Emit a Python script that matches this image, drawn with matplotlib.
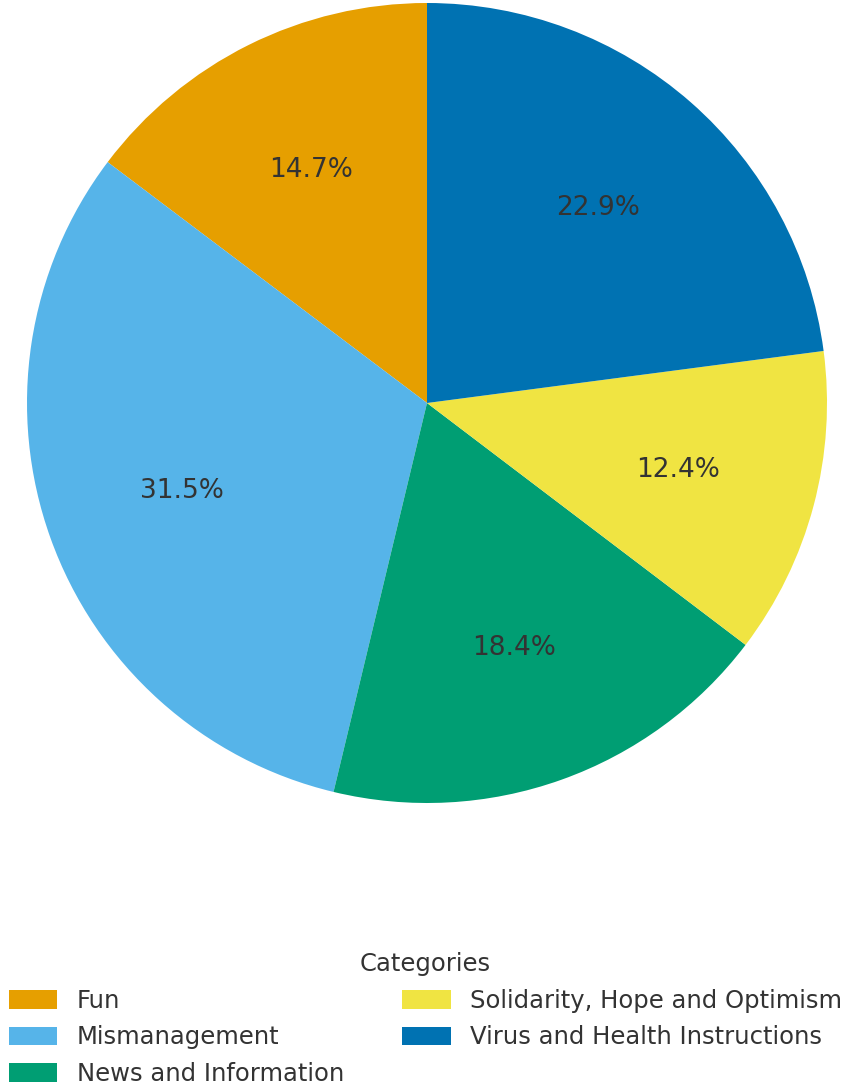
import matplotlib
matplotlib.use('Agg')
import matplotlib.pyplot as plt
from matplotlib.patches import Patch

categories = ['Fun', 'Mismanagement', 'News and Information',
              'Solidarity, Hope and Optimism', 'Virus and Health Instructions']
shares = [14.7, 31.5, 18.4, 12.4, 22.9]
colors = ['#E69F00', '#56B4E9', '#009E73', '#F0E442', '#0072B2']

text_color = '#333333'
plt.rcParams['font.family'] = 'DejaVu Sans'

fig = plt.figure(figsize=(8.51, 10.88), dpi=100)
ax = fig.add_axes([27 / 851, 1 - 803 / 1088, 800 / 851, 800 / 1088])

wedges, texts, autotexts = ax.pie(
    shares, colors=colors, startangle=90, autopct='%1.1f%%',
    pctdistance=0.65, radius=1.0,
    textprops={'fontsize': 19, 'color': text_color})
ax.set_xlim(-1, 1)
ax.set_ylim(-1, 1)
ax.set_aspect('equal')
ax.axis('off')

handles = [Patch(facecolor=c) for c in colors]
leg = fig.legend(handles, categories, title='Categories', ncol=2,
                 loc='upper center', bbox_to_anchor=(0.5, 1 - 940 / 1088),
                 frameon=False, fontsize=17.5, title_fontsize=17.5,
                 columnspacing=2.4, handletextpad=0.8, handleheight=0.8,
                 labelspacing=0.52, borderpad=0.0)
for t in leg.get_texts():
    t.set_color(text_color)
leg.get_title().set_color(text_color)

fig.savefig('out.png', dpi=100)
